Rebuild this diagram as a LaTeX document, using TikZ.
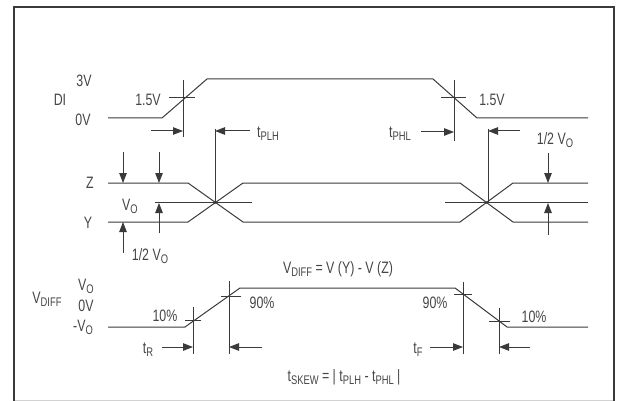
\documentclass[tikz,border=0pt]{standalone}
\usepackage{fontspec}
\setmainfont[FakeStretch=0.75]{Liberation Sans}
\usetikzlibrary{arrows.meta}
\definecolor{linecol}{HTML}{3A3A3A}
\definecolor{txtcol}{HTML}{454545}
\newcommand{\sbs}[1]{\raisebox{-0.35ex}{\fontsize{12.5}{13}\selectfont #1}}

\begin{document}
\begin{tikzpicture}[x=1pt, y=-1pt,
    wave/.style={draw=linecol, line width=1pt},
    tick/.style={draw=linecol, line width=1pt},
    arrow/.style={-{Triangle[length=10pt,width=7.5pt]}, draw=linecol, fill=linecol, line width=1pt},
    lbl/.style={text=txtcol, inner sep=0pt, font=\fontsize{16.5}{17}\selectfont}
]
\useasboundingbox (0,0) rectangle (621,401);

% frame
\draw[gray!35, line width=0.8pt] (14,400) -- (614,400);
\draw[linecol, line width=2pt] (14,401) -- (14,7) -- (614,7) -- (614,401);

% waveforms
\draw[wave] (108,118) -- (162,118) -- (207,79) -- (433,79) -- (477,118) -- (588,118);
\draw[wave] (108,183) -- (188,183) -- (243,222) -- (460,222) -- (513,183) -- (588,183);
\draw[wave] (108,222) -- (188,222) -- (243,183) -- (460,183) -- (513,222) -- (588,222);
\draw[wave] (155,202.5) -- (252,202.5);
\draw[wave] (445,202.5) -- (588,202.5);
\draw[wave] (108,327) -- (185,327) -- (240,288) -- (455,288) -- (507,327) -- (588,327);
\fill[linecol] (215,202.5) circle (1.6pt) (487,202.5) circle (1.6pt);

% tick points
\foreach \n/\x/\y in {dA/183/80, dB/183/137, dC/169/98, dD/195/98,
                      dE/454/80, dF/454/141, dG/441/98, dH/466/98,
                      pA/215/129, pB/215/203, pC/488/129, pD/488/203,
                      rA/193/307, rB/193/354, rC/185/320, rD/201/320,
                      rE/229/281, rF/229/354, rG/221/296, rH/241/296,
                      fA/463/282, fB/463/354, fC/454/294, fD/472/294,
                      fE/499/308, fF/499/354, fG/489/321, fH/510/321}
  \coordinate (\n) at (\x,\y);
\foreach \a/\b in {dA/dB, dC/dD, dE/dF, dG/dH, pA/pB, pC/pD,
                   rA/rB, rC/rD, rE/rF, rG/rH, fA/fB, fC/fD, fE/fF, fG/fH}
  \draw[tick] (\a) -- (\b);

% arrow tails and heads
\foreach \n/\x/\y in {aA/151/131, aB/183/131, aC/250/131, aD/215/131,
                      aE/421/132, aF/454/132, aG/520/131, aH/488/131,
                      zA/123/152, zB/123/183, zC/159/152, zD/159/183,
                      yA/123/253, yB/123/222, yC/159/233, yD/159/203,
                      qA/548/153, qB/548/183, qC/548/235, qD/548/203,
                      tA/162/347, tB/193/347, tC/262/347, tD/229/347,
                      tE/430/347, tF/463/347, tG/530/347, tH/499/347}
  \coordinate (\n) at (\x,\y);
\foreach \a/\b in {aA/aB, aC/aD, aE/aF, aG/aH, zA/zB, zC/zD, yA/yB, yC/yD,
                   qA/qB, qC/qD, tA/tB, tC/tD, tE/tF, tG/tH}
  \draw[arrow] (\a) -- (\b);

% labels
\node[lbl] (v3) at (84,81) {3V};
\node[lbl] (di) at (60,100) {DI};
\node[lbl] (v0) at (83,120) {0V};
\node[lbl] (h1) at (148,100) {1.5V};
\node[lbl] (h2) at (492,100) {1.5V};
\node[lbl] (plh) at (268,134) {t\sbs{PLH}};
\node[lbl] (phl) at (400,134) {t\sbs{PHL}};
\node[lbl] (hv1) at (555,140) {1/2 V\sbs{O}};
\node[lbl] (z) at (90,183) {Z};
\node[lbl] (y) at (88,223) {Y};
\node[lbl] (vo) at (130,206) {V\sbs{O}};
\node[lbl] (hv2) at (150,256) {1/2 V\sbs{O}};
\node[lbl] (eq) at (338,269) {V\sbs{DIFF} = V (Y) - V (Z)};
\node[lbl] (dvo) at (86,286) {V\sbs{O}};
\node[lbl] (dv) at (47,299) {V\sbs{DIFF}};
\node[lbl] (dv0) at (86,306) {0V};
\node[lbl] (dmv) at (83,327) {-V\sbs{O}};
\node[lbl] (p10a) at (165,316) {10\%};
\node[lbl] (p90a) at (262,303) {90\%};
\node[lbl] (p90b) at (435,303) {90\%};
\node[lbl] (p10b) at (534,317) {10\%};
\node[lbl] (tr) at (148,350) {t\sbs{R}};
\node[lbl] (tf) at (418,350) {t\sbs{F}};
\node[lbl] (skew) at (344,377) {t\sbs{SKEW} = | t\sbs{PLH} - t\sbs{PHL} |};
\end{tikzpicture}
\end{document}
